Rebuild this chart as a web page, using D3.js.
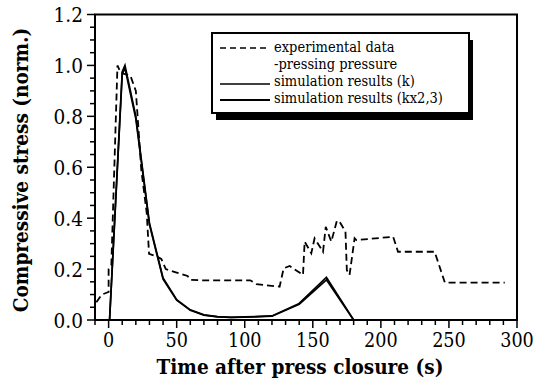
<!DOCTYPE html>
<html><head><meta charset="utf-8">
<script src="https://cdn.jsdelivr.net/npm/d3@7"></script>
<style>body{margin:0;background:#fff}svg{display:block}</style>
</head><body><svg id="c" width="540" height="381"></svg>
<script>
const expT = [-9,-5,0,0,2,6.5,9,16,20,24,28,29.7,35,38.7,42,50,58,60,67,104,108.5,125.6,128.6,133,142.8,144,148.9,151.3,157.5,159.5,163.6,167.7,169.7,174,175,177,180.7,182,209,212.6,239.5,247,291];
const expV = [0.07,0.1,0.11,0.2,0.215,1.0,0.97,0.96,0.9,0.59,0.42,0.26,0.25,0.24,0.2,0.186,0.173,0.158,0.156,0.156,0.141,0.131,0.203,0.212,0.177,0.308,0.262,0.321,0.268,0.366,0.308,0.39,0.386,0.347,0.196,0.177,0.321,0.314,0.327,0.268,0.268,0.147,0.147];
const simT = [0.7,10,12,20,30,40,50,60,70,80,90,100,120,140,160,180];
const simK = [0,0.975,1.0,0.8,0.38,0.165,0.08,0.04,0.02,0.013,0.01,0.012,0.016,0.065,0.168,0];
const simK23 = [0,0.965,0.99,0.79,0.375,0.16,0.078,0.038,0.019,0.012,0.01,0.011,0.015,0.062,0.158,0];
const xTicks = [0,50,100,150,200,250,300];
const yTicks = [0,0.2,0.4,0.6,0.8,1.0,1.2];
const legendLabels = ["experimental data","-pressing pressure","simulation results (k)","simulation results (kx2,3)"];

const FONT = "'DejaVu Serif', serif";
function condense(sel, f){
  sel.each(function(){
    const L = this.getComputedTextLength();
    d3.select(this).attr("textLength", L*f).attr("lengthAdjust","spacingAndGlyphs");
  });
}
const svg = d3.select("#c");
const x = d3.scaleLinear().domain([-10,300]).range([95,517]);
const y = d3.scaleLinear().domain([0,1.2]).range([320,14.5]);

const minorX = d3.range(-10,301,10);
const minorY = d3.range(0,1.2001,0.05);
const ax = svg.append("g");
ax.selectAll(".mx").data(minorX).join("line")
  .attr("x1",d=>x(d)).attr("x2",d=>x(d)).attr("y1",320).attr("y2",d=>xTicks.includes(d)?328:325)
  .attr("stroke","#000").attr("stroke-width",1.5);
ax.selectAll(".my").data(minorY).join("line")
  .attr("y1",d=>y(d)).attr("y2",d=>y(d)).attr("x1",95).attr("x2",d=>(Math.abs(Math.round(d*5)-d*5)<1e-6)?87:90)
  .attr("stroke","#000").attr("stroke-width",1.5);
svg.append("rect").attr("x",95).attr("y",y(1.2)).attr("width",x(300)-95).attr("height",320-y(1.2))
  .attr("fill","none").attr("stroke","#000").attr("stroke-width",2);

const xl = svg.selectAll(".xl").data(xTicks).join("text").style("font-family",FONT)
  .attr("x",d=>x(d)).attr("y",347).attr("text-anchor","middle").attr("font-size",20).text(d=>d);
condense(xl,0.88);
const yl = svg.selectAll(".yl").data(yTicks).join("text").style("font-family",FONT)
  .attr("x",83).attr("y",d=>y(d)+7.5).attr("text-anchor","end").attr("font-size",21).text(d=>d.toFixed(1));
condense(yl,0.88);

const xt = svg.append("text").style("font-family",FONT).attr("x",300).attr("y",374).attr("text-anchor","middle")
  .attr("font-size",21).attr("font-weight","bold").text("Time after press closure (s)");
condense(xt,0.88);
const yt = svg.append("text").style("font-family",FONT).attr("transform","translate(28,170) rotate(-90)").attr("text-anchor","middle")
  .attr("font-size",21).attr("font-weight","bold").text("Compressive stress (norm.)");
condense(yt,0.88);

const line = d3.line().x(d=>x(d[0])).y(d=>y(d[1]));
const expData = expT.map((t,i)=>[t,expV[i]]);
const kData = simT.map((t,i)=>[t,simK[i]]);
const k23Data = simT.map((t,i)=>[t,simK23[i]]);
svg.append("path").attr("d",line(expData)).attr("fill","none").attr("stroke","#000").attr("stroke-width",1.8).attr("stroke-dasharray","7,4");
svg.append("path").attr("d",line(kData)).attr("fill","none").attr("stroke","#000").attr("stroke-width",1.7);
svg.append("path").attr("d",line(k23Data)).attr("fill","none").attr("stroke","#000").attr("stroke-width",1.7);

const lg = svg.append("g");
lg.append("rect").attr("x",216).attr("y",40).attr("width",257).attr("height",80).attr("fill","#000");
lg.append("rect").attr("x",212).attr("y",33).attr("width",257).attr("height",80).attr("fill","#fff").attr("stroke","#000").attr("stroke-width",2);
const rowsY = [48,65,84,100];
lg.append("line").attr("x1",220).attr("x2",270).attr("y1",rowsY[0]).attr("y2",rowsY[0]).attr("stroke","#000").attr("stroke-width",1.6).attr("stroke-dasharray","6,4");
lg.append("line").attr("x1",220).attr("x2",270).attr("y1",rowsY[2]).attr("y2",rowsY[2]).attr("stroke","#000").attr("stroke-width",1.6);
lg.append("line").attr("x1",220).attr("x2",270).attr("y1",rowsY[3]).attr("y2",rowsY[3]).attr("stroke","#000").attr("stroke-width",1.8);
const lt = lg.selectAll(".lt").data(legendLabels).join("text").style("font-family",FONT)
  .attr("x",274).attr("y",(d,i)=>[52,68.5,85.5,102.5][i]).attr("font-size",14.5).text(d=>d);
condense(lt,0.9);
</script></body></html>
